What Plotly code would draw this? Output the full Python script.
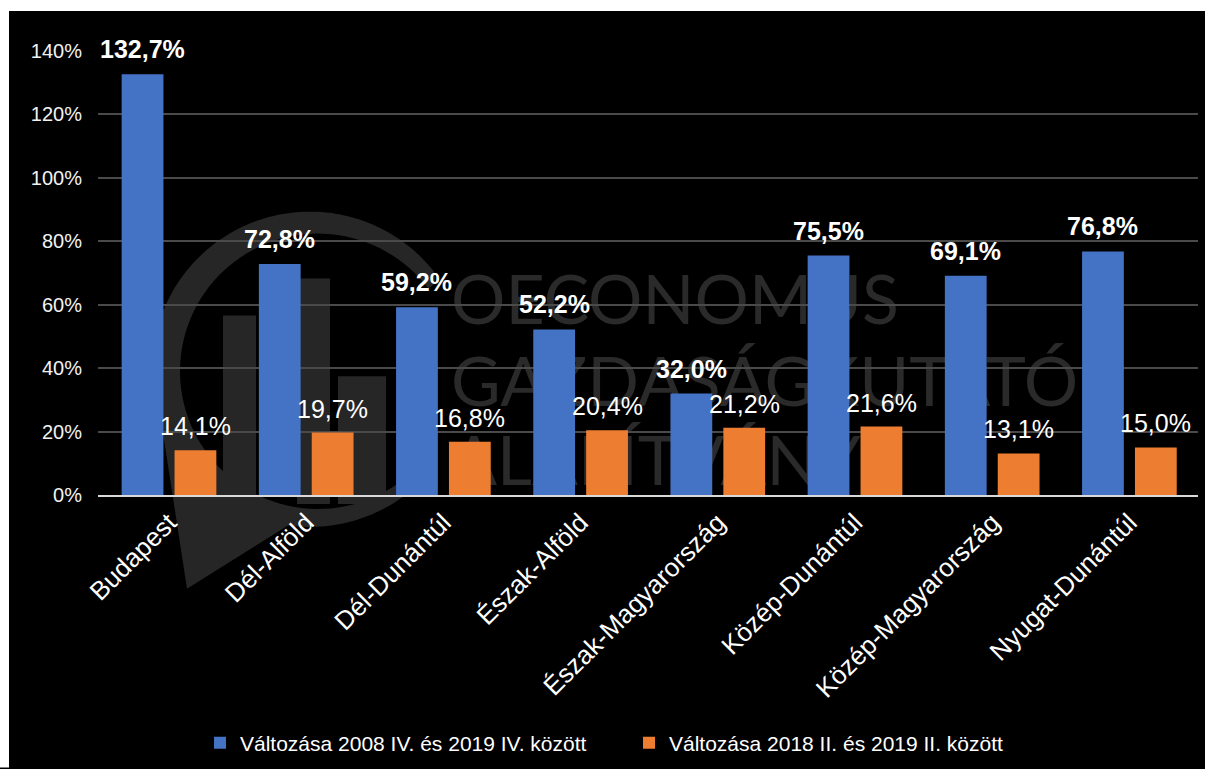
import numpy as np
import plotly.graph_objects as go

# Regional change of the indicator, percent
regions = ["Budapest", "Dél-Alföld", "Dél-Dunántúl", "Észak-Alföld",
           "Észak-Magyarország", "Közép-Dunántúl", "Közép-Magyarország",
           "Nyugat-Dunántúl"]
change_2008_2019 = [132.7, 72.8, 59.2, 52.2, 32.0, 75.5, 69.1, 76.8]
change_2018_2019 = [14.1, 19.7, 16.8, 20.4, 21.2, 21.6, 13.1, 15.0]
series_names = ["Változása 2008 IV. és 2019 IV. között",
                "Változása 2018 II. és 2019 II. között"]
y_ticks = [0, 20, 40, 60, 80, 100, 120, 140]
y_tick_labels = [f"{v}%" for v in y_ticks]

BLUE = "#4472C4"
ORANGE = "#ED7D31"
FONT = "Liberation Sans, Arial, sans-serif"

W, H = 1205, 769
ML, MR, MT, MB = 98, 7, 51, 273
PW, PH = W - ML - MR, H - MT - MB


def fx(x):
    """pixel x -> paper fraction"""
    return (x - ML) / PW


def fy(y):
    """pixel y -> paper fraction"""
    return (H - MB - y) / PH


def poly_path(points):
    return "M" + "L".join(f"{fx(x):.5f},{fy(y):.5f}" for x, y in points) + "Z"


def arc(cx, cy, r, a0, a1, n=120):
    t = np.radians(np.linspace(a0, a1, n))
    return [(cx + r * np.cos(a), cy - r * np.sin(a)) for a in t]


fig = go.Figure()
fig.add_trace(go.Bar(x=regions, y=change_2008_2019, name=series_names[0],
                     marker=dict(color=BLUE, line=dict(width=0))))
fig.add_trace(go.Bar(x=regions, y=change_2018_2019, name=series_names[1],
                     marker=dict(color=ORANGE, line=dict(width=0))))


def fmt(v):
    return f"{v:.1f}".replace(".", ",") + "%"


annotations = []
for cat, v in zip(regions, change_2008_2019):
    annotations.append(dict(x=cat, y=v, xref="x", yref="y", text=fmt(v),
                            showarrow=False, xshift=-26.5, yshift=25,
                            yanchor="middle",
                            font=dict(family=FONT, size=25, color="white",
                                      weight="bold")))
for cat, v in zip(regions, change_2018_2019):
    annotations.append(dict(x=cat, y=v, xref="x", yref="y", text=fmt(v),
                            showarrow=False, xshift=26.5, yshift=24,
                            yanchor="middle",
                            font=dict(family=FONT, size=25, color="white")))

# Background logo and lettering of the foundation
WM = "#262626"
shapes = []
# white frame strips
shapes.append(dict(type="rect", xref="paper", yref="paper", layer="below",
                   x0=fx(0), x1=fx(W), y0=fy(0), y1=fy(11),
                   fillcolor="white", line=dict(width=0)))
shapes.append(dict(type="rect", xref="paper", yref="paper", layer="below",
                   x0=fx(0), x1=fx(9), y0=fy(0), y1=fy(H),
                   fillcolor="white", line=dict(width=0)))
# speech bubble ring with tail
outer = arc(310, 370, 158, 38, 200) + [(187, 590)] + arc(310, 370, 158, 262, 325)
shapes.append(dict(type="path", xref="paper", yref="paper", layer="below",
                   path=poly_path(outer), fillcolor=WM, line=dict(width=0)))
shapes.append(dict(type="path", xref="paper", yref="paper", layer="below",
                   path=poly_path(arc(318, 372, 138, 0, 360)),
                   fillcolor="black", line=dict(width=0)))
shapes.append(dict(type="path", xref="paper", yref="paper", layer="below",
                   path=poly_path([(318, 372), (560, 190), (560, 560)]),
                   fillcolor="black", line=dict(width=0)))
# bars inside the bubble
for x0, x1, top in [(223, 256, 316), (297, 330, 279), (338, 386, 377)]:
    shapes.append(dict(type="rect", xref="paper", yref="paper", layer="below",
                       x0=fx(x0), x1=fx(x1), y0=fy(505), y1=fy(top),
                       fillcolor=WM, line=dict(width=0)))
# lettering
for text, cy in [("OECONOMUS", 297), ("GAZDASÁGKUTATÓ", 379), ("ALAPÍTVÁNY", 458)]:
    shapes.append(dict(type="rect", xref="paper", yref="paper", layer="below",
                       x0=fx(448), x1=fx(448 + 700), y0=fy(cy + 30), y1=fy(cy - 30),
                       fillcolor="rgba(0,0,0,0)", line=dict(width=0),
                       label=dict(text=text, textposition="middle left",
                                  padding=0,
                                  font=dict(family="Lato, sans-serif", size=68,
                                            color="#2a2a2a", weight="normal"))))

fig.update_layout(
    width=W, height=H,
    margin=dict(l=ML, r=MR, t=MT, b=MB, pad=0),
    paper_bgcolor="black",
    plot_bgcolor="rgba(0,0,0,0)",
    barmode="group",
    bargap=0.229,
    bargroupgap=0.21,
    font=dict(family=FONT, color="white"),
    showlegend=True,
    legend=dict(orientation="h", x=fx(200), xanchor="left",
                y=fy(743), yanchor="middle",
                font=dict(family=FONT, size=21, color="white"),
                bgcolor="rgba(0,0,0,0)", entrywidth=384, entrywidthmode="pixels",
                traceorder="normal"),
    xaxis=dict(type="category", showgrid=False, showline=True,
               linecolor="#d9d9d9", linewidth=2, ticks="",
               tickangle=-45, tickfont=dict(family=FONT, size=26, color="white")),
    yaxis=dict(range=[0, 140], tickmode="array", tickvals=y_ticks,
               ticktext=y_tick_labels,
               showgrid=True, gridcolor="#4a4a4a", gridwidth=1.5,
               zeroline=False, showline=False, ticks="",
               ticklabelstandoff=15,
               tickfont=dict(family=FONT, size=20, color="#f2f2f2")),
    annotations=annotations,
    shapes=shapes,
)

page_style = (
    "document.documentElement.style.background = 'black';"
    "document.documentElement.style.overflow = 'hidden';"
    "document.body.style.background = 'black';"
    "document.body.style.margin = '0';"
    "document.body.style.overflow = 'hidden';"
)
fig.write_html("out.html", post_script=page_style)
